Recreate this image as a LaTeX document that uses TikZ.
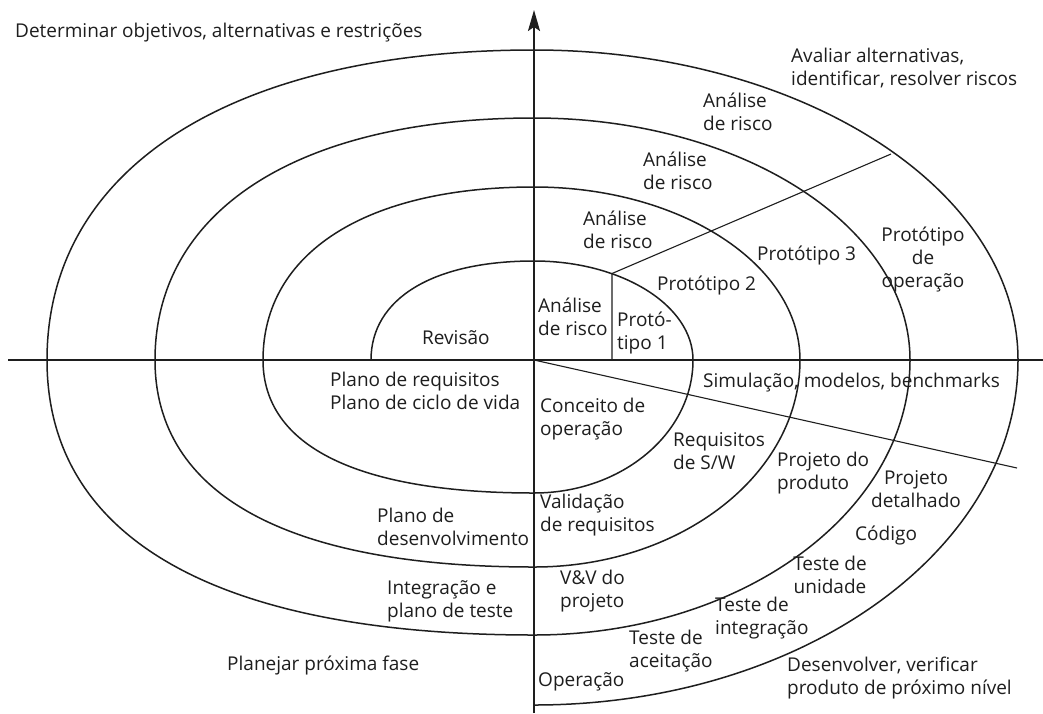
\documentclass[tikz,border=0pt]{standalone}
\usepackage{fontspec}
\setmainfont{Open Sans}
\usetikzlibrary{arrows.meta}
\definecolor{ink}{RGB}{30,30,30}
\begin{document}
\begin{tikzpicture}[x=1pt,y=-1pt,
  spiral/.style={line width=1.5pt, draw=ink},
  axisline/.style={line width=1.8pt, draw=ink},
  divider/.style={line width=1.1pt, draw=ink},
  lbl/.style={font=\fontsize{19}{23}\selectfont, inner sep=0pt, text=ink},
  lblw/.style={lbl, anchor=west, align=left},
  lblc/.style={lbl, anchor=center, align=center}]
\useasboundingbox (0,0) rectangle (1043,713);
\fill[white] (0,0) rectangle (1043,713);

% key points of the spiral
\coordinate (O) at (534,360);
\coordinate (P0) at (371,360);  \coordinate (Q1) at (534,261);
\coordinate (P2) at (693,360);  \coordinate (Q3) at (534,493);
\coordinate (P4) at (263,360);  \coordinate (Q5) at (534,187);
\coordinate (P6) at (800,360);  \coordinate (Q7) at (534,567);
\coordinate (P8) at (155,360);  \coordinate (Q9) at (534,118);
\coordinate (P10) at (910,360); \coordinate (Q11) at (534,635);
\coordinate (P12) at (47,360);  \coordinate (Q13) at (534,50);
\coordinate (P14) at (1018,360);\coordinate (Q15) at (534,705);

% axes
\coordinate (hL) at (8,360);
\coordinate (hR) at (1043,360);
\coordinate (vB) at (534,713);
\coordinate (vT) at (534,10);
\draw[axisline] (hL) -- (hR);
\draw[axisline, -{Stealth[length=21pt,width=12pt,inset=4pt]}] (vB) -- (vT);

% spiral
\draw[spiral] (P0)
  .. controls (371,298.6) and (432.9,261) .. (Q1)
  .. controls (621.8,261) and (693,305.4) .. (P2)
  .. controls (693,433.4) and (621.8,493) .. (Q3)
  .. controls (357.8,493) and (263,446.5) .. (P4)
  .. controls (263,252.7) and (366,187) .. (Q5)
  .. controls (680.8,187) and (800,264.5) .. (P6)
  .. controls (800,474.3) and (680.8,567) .. (Q7)
  .. controls (287.6,567) and (155,494.6) .. (P8)
  .. controls (155,210) and (299,118) .. (Q9)
  .. controls (741.6,118) and (910,226.4) .. (P10)
  .. controls (910,511.8) and (741.6,635) .. (Q11)
  .. controls (217.4,635) and (47,538.8) .. (P12)
  .. controls (47,167.8) and (232.1,50) .. (Q13)
  .. controls (801.2,50) and (1018,188.9) .. (P14)
  .. controls (1018,550.4) and (801.2,705) .. (Q15);

% dividers
\coordinate (dA) at (612,360);
\coordinate (dB) at (612,273.5);
\coordinate (dC) at (891,154);
\coordinate (dD) at (1017,468);
\draw[divider] (dA) -- (dB) -- (dC);
\draw[divider] (O) -- (dD);

% labels
\node[lblw] (det) at (15,33) {Determinar objetivos, alternativas e restrições};
\node[lblw] (aval) at (791,68.5) {Avaliar alternativas,\\identificar, resolver riscos};
\node[lblw] (ar1) at (703,111.5) {Análise\\de risco};
\node[lblw] (ar2) at (643,171) {Análise\\de risco};
\node[lblw] (ar3) at (583,230) {Análise\\de risco};
\node[lblw] (ar4) at (538,316.5) {Análise\\de risco};
\node[lblw] (pr1) at (617,332.5) {Protó-\\tipo 1};
\node[lblw] (pr2) at (657,285) {Protótipo 2};
\node[lblw] (pr3) at (757,255) {Protótipo 3};
\node[lblc] (prop) at (923,259) {Protótipo\\de\\operação};
\node[lblw] (rev) at (422,338) {Revisão};
\node[lblw] (preq) at (330,391) {Plano de requisitos\\Plano de ciclo de vida};
\node[lblw] (pdes) at (377,526.5) {Plano de\\desenvolvimento};
\node[lblw] (integ) at (387,601) {Integração e\\plano de teste};
\node[lblw] (plan) at (227,665) {Planejar próxima fase};
\node[lblw] (sim) at (703,383) {Simulação, modelos, benchmarks};
\node[lblw] (conc) at (540,419.5) {Conceito de\\operação};
\node[lblw] (req) at (673,451.5) {Requisitos\\de S/W};
\node[lblw] (pprod) at (777,473) {Projeto do\\produto};
\node[lblc] (pdet) at (916,489) {Projeto\\detalhado};
\node[lblw] (cod) at (855,535) {Código};
\node[lblc] (tun) at (830,575) {Teste de\\unidade};
\node[lblw] (vv) at (560,591.5) {V\&V do\\projeto};
\node[lblw] (val) at (540,515) {Validação\\de requisitos};
\node[lblw] (tint) at (715,618) {Teste de\\integração};
\node[lblw] (tac) at (629,651.5) {Teste de\\aceitação};
\node[lblw] (oper) at (538,682) {Operação};
\node[lblw] (desv) at (787,677.5) {Desenvolver, verificar\\produto de próximo nível};
\end{tikzpicture}
\end{document}
